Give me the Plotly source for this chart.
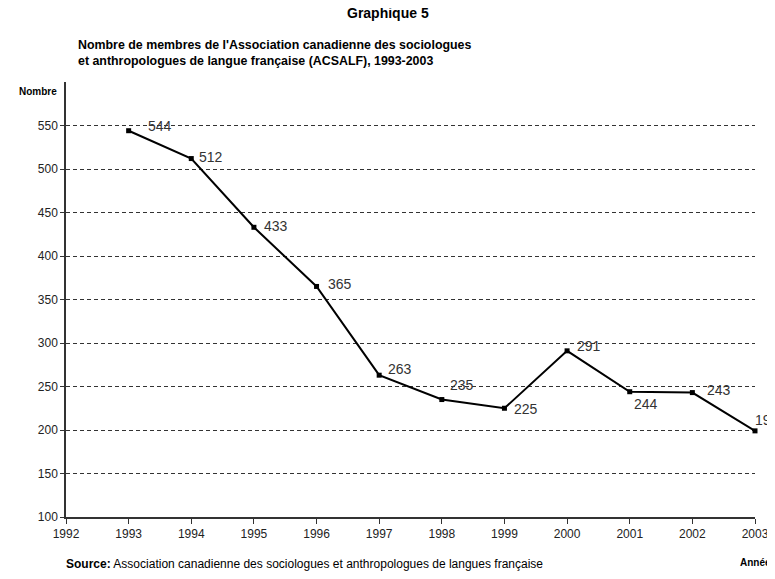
import plotly.graph_objects as go

years = [1993, 1994, 1995, 1996, 1997, 1998, 1999, 2000, 2001, 2002, 2003]
members = [544, 512, 433, 365, 263, 235, 225, 291, 244, 243, 199]
x_ticks = list(range(1992, 2004))
y_ticks = [100, 150, 200, 250, 300, 350, 400, 450, 500, 550]

# label placement (pixel offsets) for each data label
label_dx = [17, 6, 8, 9, 7, 6, 8, 8, 2, 13, -2]
label_dy = [5, 2, 1, 2, 6, 15, -1, 5, -12, 3, 11]

# page offset (default body margin) and plot-area geometry in window pixels
OFF = 8
L, R, T, B = 66, 20, 82, 62
W, H = 775 - OFF, 579 - OFF
PW, PH = 775 - L - R, 579 - T - B

def px(x):
    return (x - L) / PW

def py(y):
    return (579 - B - y) / PH

fig = go.Figure()
fig.add_trace(go.Scatter(
    x=years, y=members, mode="lines+markers",
    line=dict(color="black", width=2),
    marker=dict(symbol="square", size=5, color="black"),
    hoverinfo="skip", showlegend=False, cliponaxis=False,
))

F = "Liberation Sans, Arial, sans-serif"
annotations = []
for x, y, dx, dy in zip(years, members, label_dx, label_dy):
    annotations.append(dict(
        x=x, y=y, xref="x", yref="y", text=str(y), showarrow=False,
        xanchor="left", yanchor="middle", xshift=dx, yshift=dy,
        font=dict(family=F, size=14, color="#333333"),
    ))

annotations += [
    dict(x=px(388), y=py(13), xref="paper", yref="paper", xanchor="center", yanchor="middle",
         text="<b>Graphique 5</b>", showarrow=False, font=dict(family=F, size=14, color="black")),
    dict(x=px(76), y=py(53), xref="paper", yref="paper", xanchor="left", yanchor="middle",
         text="<b>Nombre de membres de l'Association canadienne des sociologues<br>et anthropologues de langue française (ACSALF), 1993-2003</b>",
         showarrow=False, align="left", font=dict(family=F, size=12.4, color="black")),
    dict(x=px(38), y=py(92), xref="paper", yref="paper", xanchor="center", yanchor="middle",
         text="<b>Nombre</b>", showarrow=False, font=dict(family=F, size=10, color="black")),
    dict(x=px(738), y=py(562), xref="paper", yref="paper", xanchor="left", yanchor="middle",
         text="<b>Année</b>", showarrow=False, font=dict(family=F, size=10, color="black")),
    dict(x=px(64), y=py(564), xref="paper", yref="paper", xanchor="left", yanchor="middle",
         text="<b>Source:</b> Association canadienne des sociologues et anthropologues de langues française",
         showarrow=False, font=dict(family=F, size=12, color="black")),
]

fig.update_layout(
    width=W, height=H,
    margin=dict(l=L - OFF, r=R, t=T - OFF, b=B, autoexpand=False),
    paper_bgcolor="white", plot_bgcolor="white",
    font=dict(family=F, size=11, color="#222222"),
    annotations=annotations,
    xaxis=dict(range=[1992, 2003], tickvals=x_ticks, ticktext=[str(v) for v in x_ticks], automargin=False,
               showgrid=False, zeroline=False, showline=True, linecolor="#333333", linewidth=1.5,
               ticks="outside", ticklen=5, tickcolor="#333333", tickfont=dict(size=12, color="#222222")),
    yaxis=dict(range=[100, 600], tickvals=y_ticks, showgrid=True, gridcolor="#333333", gridwidth=1, automargin=False,
               griddash="4px,3px", zeroline=False, showline=True, linecolor="#333333", linewidth=1.5,
               ticks="outside", ticklen=4, tickcolor="#333333", tickfont=dict(size=12, color="#222222")),
)
fig.write_html("out.html")
